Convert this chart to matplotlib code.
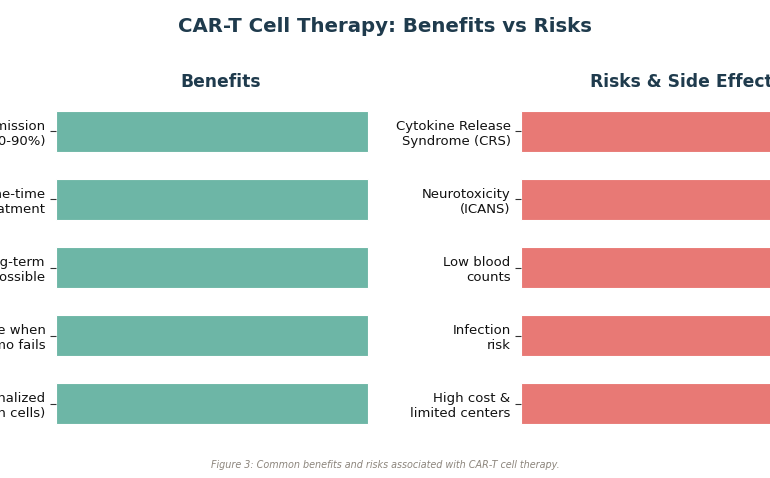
import matplotlib
matplotlib.use("Agg")
import matplotlib.pyplot as plt

benefits = ["High remission\nrates (70-90%)", "One-time\ntreatment", "Long-term\nremission possible",
            "Effective when\nchemo fails", "Personalized\n(your own cells)"]
benefit_values = [1, 1, 1, 1, 1]
risks = ["Cytokine Release\nSyndrome (CRS)", "Neurotoxicity\n(ICANS)", "Low blood\ncounts",
         "Infection\nrisk", "High cost &\nlimited centers"]
risk_values = [1, 1, 1, 1, 1]

title_color = "#1f3b4d"
teal = "#6db6a6"
red = "#e87975"

fig = plt.figure(figsize=(7.7, 4.78), dpi=100)
W, H = 770, 478
def pos(x0, x1, ytop, ybot):
    return [x0 / W, 1 - ybot / H, (x1 - x0) / W, (ybot - ytop) / H]

axL = fig.add_axes(pos(56, 386, 97, 438))
axR = fig.add_axes(pos(521, 851, 97, 438))

for ax, cats, vals, col, ttl in [(axL, benefits, benefit_values, teal, "Benefits"),
                                  (axR, risks, risk_values, red, "Risks & Side Effects")]:
    y = list(range(len(cats)))
    ax.barh(y, vals, height=0.6, color=col, edgecolor="white", linewidth=0.8)
    ax.set_yticks(y)
    ax.set_yticklabels(cats, fontsize=9.5, color="#111111")
    ax.set_xlim(0, 1.058)
    ax.set_ylim(len(cats) - 0.5, -0.5)
    ax.set_xticks([])
    for s in ax.spines.values():
        s.set_visible(False)
    ax.tick_params(axis="y", length=4, width=0.8, color="#333333")
    ax.set_title(ttl, fontsize=12.3, fontweight="bold", color=title_color, pad=7)

fig.text(0.5, 1 - 26 / H, "CAR-T Cell Therapy: Benefits vs Risks", ha="center", va="center",
         fontsize=14.2, fontweight="bold", color=title_color)
fig.text(0.5, 1 - 465 / H, "Figure 3: Common benefits and risks associated with CAR-T cell therapy.",
         ha="center", va="center", fontsize=6.9, style="italic", color="#8c857c")

fig.savefig("out.png", dpi=100)
